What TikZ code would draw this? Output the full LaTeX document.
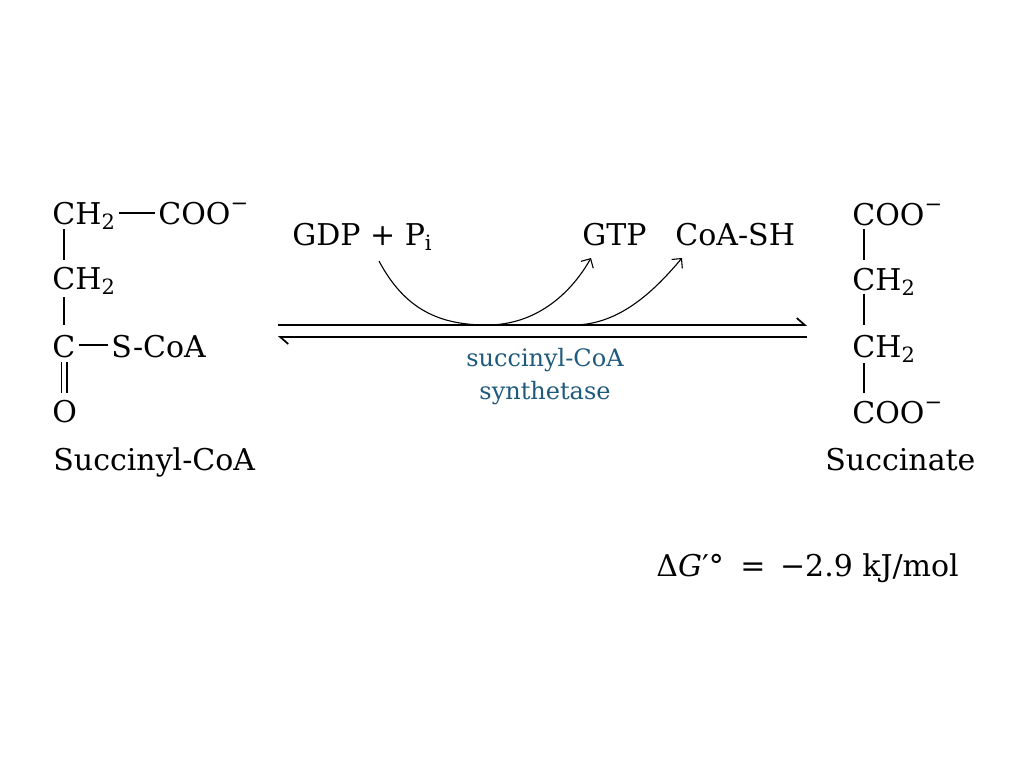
\documentclass[tikz,border=0pt]{standalone}
\usepackage{fontspec}
\setmainfont{DejaVu Serif}
\usetikzlibrary{arrows.meta}
\definecolor{enzblue}{RGB}{30,90,125}
\tikzset{txt/.style={font=\fontsize{15}{18}\selectfont, inner sep=0pt, anchor=base west}}
\tikzset{enz/.style={font=\fontsize{12}{16.5}\selectfont, inner sep=0pt, text=enzblue, align=center}}
\tikzset{bond/.style={line width=.9pt}}
\tikzset{eq/.style={line width=.85pt, -{Straight Barb[left,length=4pt,width=7pt]}}}
\tikzset{curv/.style={line width=.55pt, -{Straight Barb[length=3.5pt,width=7pt]}}}
\newcommand{\sbs}[1]{\textsubscript{#1}}
\newcommand{\ion}{\textsuperscript{\raisebox{1.5pt}{−}}}

\begin{document}
\begin{tikzpicture}[x=0.5pt,y=-0.5pt]
    \useasboundingbox (0,0) rectangle (1024,768);
    % succinyl-CoA
    \node[txt] (lch2a) at (52,224) {CH\sbs{2}};
    \node[txt] (lcoo) at (158,224) {COO\ion};
    \node[txt] (lch2b) at (52,289) {CH\sbs{2}};
    \node[txt] (lc) at (52,357) {C};
    \node[txt] (lscoa) at (111,357) {S-CoA};
    \node[txt] (lo) at (52,422) {O};
    \node[txt] (lname) at (53,470) {Succinyl-CoA};
    \draw[bond] ([shift={(3,-11)}]lch2a.base east) -- ([shift={(-3,-11)}]lcoo.base west);
    \draw[bond] ([shift={(12,5)}]lch2a.base west) -- ([shift={(12,-29)}]lch2b.base west);
    \draw[bond] ([shift={(12,8)}]lch2b.base west) -- ([shift={(12,-32)}]lc.base west);
    \draw[bond] ([shift={(3,-12)}]lc.base east) -- ([shift={(-3,-12)}]lscoa.base west);
    \draw[bond] ([shift={(9.5,5)}]lc.base west) -- ([shift={(9.5,-29)}]lo.base west);
    \draw[bond] ([shift={(15,5)}]lc.base west) -- ([shift={(15,-29)}]lo.base west);
    % succinate
    \node[txt] (rcooa) at (852,225) {COO\ion};
    \node[txt] (rch2a) at (852,290) {CH\sbs{2}};
    \node[txt] (rch2b) at (852,357) {CH\sbs{2}};
    \node[txt] (rcoob) at (852,423) {COO\ion};
    \node[txt] (rname) at (825,470) {Succinate};
    \draw[bond] ([shift={(12,4)}]rcooa.base west) -- ([shift={(12,-30)}]rch2a.base west);
    \draw[bond] ([shift={(12,4)}]rch2a.base west) -- ([shift={(12,-32)}]rch2b.base west);
    \draw[bond] ([shift={(12,6)}]rch2b.base west) -- ([shift={(12,-30)}]rcoob.base west);
    % reaction arrows
    \coordinate (fa) at (278,325);
    \coordinate (fb) at (807,325);
    \coordinate (ra) at (807,337);
    \coordinate (rb) at (278,337);
    \coordinate (mid) at (573,325);
    \draw[eq] (fa) -- (fb);
    \draw[eq] (ra) -- (rb);
    \node[txt] (gdp) at (292,245) {GDP + P\sbs{i}};
    \node[txt] (gtp) at (582,245) {GTP};
    \node[txt] (coash) at (675,245) {CoA-SH};
    \draw[curv] ([shift={(87,16)}]gdp.base west)
      .. controls (405,310) and (440,325) .. (487,325)
      .. controls (535,325) and (570,295) .. ([shift={(9,13)}]gtp.base west);
    \draw[curv] (mid) .. controls (620,325) and (655,290) .. ([shift={(7,13)}]coash.base west);
    \node[enz, anchor=north] (enzname) at (545,348) {succinyl-CoA\\synthetase};
    \node[txt] (dg) at (656,576) {Δ\textit{G}′°\ \hspace{3.5pt}=\ \hspace{2.5pt}−2.9 kJ/mol};
  \end{tikzpicture}
\end{document}
